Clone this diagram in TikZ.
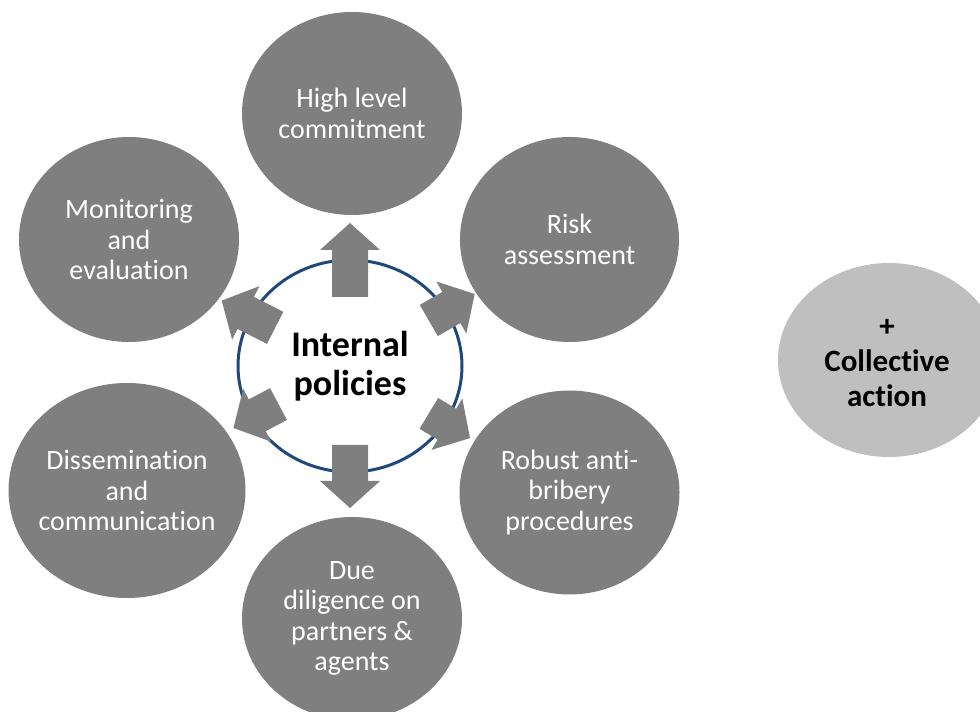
\documentclass[tikz,border=0pt]{standalone}
\usepackage{fontspec}
\setmainfont{Carlito}[Ligatures=NoCommon]
\usetikzlibrary{shapes.geometric}
\definecolor{darkgray}{HTML}{7F7F7F}
\definecolor{lightgray}{HTML}{BFBFBF}
\definecolor{ringblue}{RGB}{31,73,125}
\tikzset{
  outer/.style={ellipse, fill=darkgray, draw=none, inner sep=0pt},
  outertext/.style={text=white, align=center, inner sep=0pt,
    font=\fontsize{28}{30.5}\selectfont},
  hub/.style={ellipse, fill=white, draw=ringblue, line width=3pt, inner sep=0pt},
  hubtext/.style={align=center, inner sep=0pt, font=\bfseries\fontsize{36}{39.5}\selectfont},
  extra/.style={ellipse, fill=lightgray, draw=none, inner sep=0pt},
  extratext/.style={align=center, inner sep=0pt, font=\bfseries\fontsize{31}{35}\selectfont},
  blockarrow/.style={fill=darkgray, draw=none}
}
\begin{document}
\begin{tikzpicture}[x=1pt,y=1pt]
\useasboundingbox (0,0) rectangle (980,712);
% outer ellipses
\node[outer, minimum width=220pt, minimum height=203pt] (top) at (352,598.5) {};
\node[outer, minimum width=219pt, minimum height=205pt] (risk) at (569.5,472.5) {};
\node[outer, minimum width=220pt, minimum height=204pt] (robust) at (569.5,219.5) {};
\node[outer, minimum width=220pt, minimum height=203pt] (due) at (352,93.5) {};
\node[outer, minimum width=237pt, minimum height=215pt] (dissem) at (127,221.5) {};
\node[outer, minimum width=220pt, minimum height=205pt] (monit) at (129,472.5) {};
\node[outertext] (topt) at (top.center) {High level\\commitment};
\node[outertext] (riskt) at (risk.center) {Risk\\assessment};
\node[outertext] (robustt) at (robust.center) {Robust anti-\\bribery\\procedures};
\node[outertext] (duet) at (due.center) {Due\\diligence on\\partners \&\\agents};
\node[outertext] (dissemt) at (dissem.center) {Dissemination\\and\\communication};
\node[outertext] (monitt) at (monit.center) {Monitoring\\and\\evaluation};
% hub
\node[hub, minimum width=224pt, minimum height=212pt] (hub) at (350,346) {};
% block arrows
\foreach \ang/\tl/\tp in {90/69/143, 30/91/144, -31/92/140, -90/79/142, 208/81/132, 153/84/144}{
  \begin{scope}[shift={(hub.center)}, rotate=\ang]
    \fill[blockarrow] (\tl,-18) -- ({\tp-27},-18) -- ({\tp-27},-30) -- (\tp,0)
      -- ({\tp-27},30) -- ({\tp-27},18) -- (\tl,18) -- cycle;
  \end{scope}
}
\node[hubtext] (hubt) at (hub.center) {Internal\\policies};
% collective action
\node[extra, minimum width=222pt, minimum height=194pt] (coll) at (889,352) {};
\node[extratext] (collt) at ([xshift=-2pt,yshift=-3pt]coll.center) {+\\Collective\\action};
\end{tikzpicture}
\end{document}
